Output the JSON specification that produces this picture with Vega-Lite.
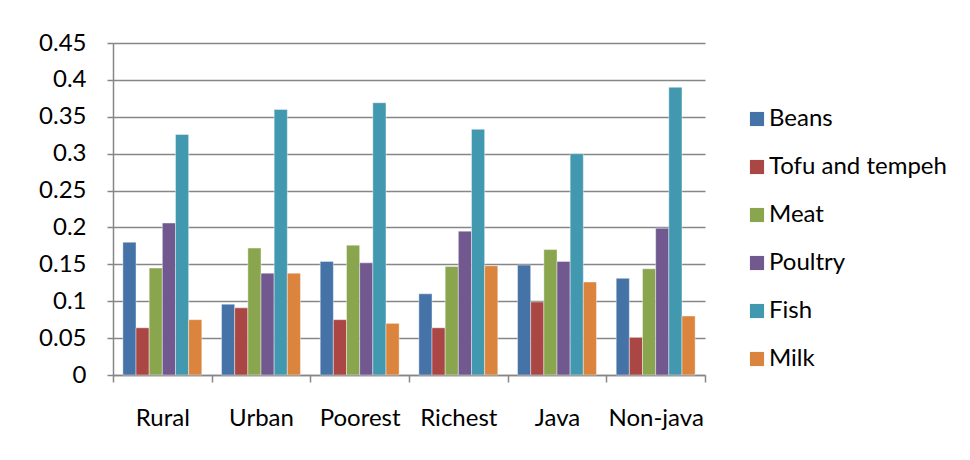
{
  "$schema": "https://vega.github.io/schema/vega-lite/v6.json",
  "width": 592,
  "height": 332,
  "autosize": {"type": "none"},
  "padding": {"left": 113, "top": 43, "right": 265, "bottom": 85},
  "background": "white",
  "config": {
    "font": "Lato",
    "view": {"stroke": null},
    "axis": {"labelFont": "Lato", "labelFontSize": 24, "labelColor": "#000000"}
  },
  "data": {
    "values": [
      {"region": "Rural", "food": "Beans", "value": 0.180},
      {"region": "Rural", "food": "Tofu and tempeh", "value": 0.064},
      {"region": "Rural", "food": "Meat", "value": 0.145},
      {"region": "Rural", "food": "Poultry", "value": 0.206},
      {"region": "Rural", "food": "Fish", "value": 0.326},
      {"region": "Rural", "food": "Milk", "value": 0.075},
      {"region": "Urban", "food": "Beans", "value": 0.096},
      {"region": "Urban", "food": "Tofu and tempeh", "value": 0.091},
      {"region": "Urban", "food": "Meat", "value": 0.172},
      {"region": "Urban", "food": "Poultry", "value": 0.138},
      {"region": "Urban", "food": "Fish", "value": 0.360},
      {"region": "Urban", "food": "Milk", "value": 0.138},
      {"region": "Poorest", "food": "Beans", "value": 0.154},
      {"region": "Poorest", "food": "Tofu and tempeh", "value": 0.075},
      {"region": "Poorest", "food": "Meat", "value": 0.176},
      {"region": "Poorest", "food": "Poultry", "value": 0.152},
      {"region": "Poorest", "food": "Fish", "value": 0.369},
      {"region": "Poorest", "food": "Milk", "value": 0.070},
      {"region": "Richest", "food": "Beans", "value": 0.110},
      {"region": "Richest", "food": "Tofu and tempeh", "value": 0.064},
      {"region": "Richest", "food": "Meat", "value": 0.147},
      {"region": "Richest", "food": "Poultry", "value": 0.195},
      {"region": "Richest", "food": "Fish", "value": 0.333},
      {"region": "Richest", "food": "Milk", "value": 0.148},
      {"region": "Java", "food": "Beans", "value": 0.149},
      {"region": "Java", "food": "Tofu and tempeh", "value": 0.099},
      {"region": "Java", "food": "Meat", "value": 0.170},
      {"region": "Java", "food": "Poultry", "value": 0.154},
      {"region": "Java", "food": "Fish", "value": 0.300},
      {"region": "Java", "food": "Milk", "value": 0.126},
      {"region": "Non-java", "food": "Beans", "value": 0.131},
      {"region": "Non-java", "food": "Tofu and tempeh", "value": 0.051},
      {"region": "Non-java", "food": "Meat", "value": 0.144},
      {"region": "Non-java", "food": "Poultry", "value": 0.199},
      {"region": "Non-java", "food": "Fish", "value": 0.390},
      {"region": "Non-java", "food": "Milk", "value": 0.080}
    ]
  },
  "mark": {"type": "bar", "stroke": "white", "strokeWidth": 0.6, "strokeOpacity": 0.7},
  "encoding": {
    "x": {
      "field": "region",
      "type": "nominal",
      "sort": ["Rural", "Urban", "Poorest", "Richest", "Java", "Non-java"],
      "scale": {"paddingInner": 0, "paddingOuter": 0},
      "axis": {
        "title": null,
        "labelAngle": 0,
        "bandPosition": 0,
        "tickBand": "extent",
        "domainColor": "#868686",
        "domainWidth": 1.5,
        "tickColor": "#868686",
        "tickWidth": 1.5,
        "tickSize": 7,
        "labelPadding": 24,
        "grid": false
      }
    },
    "xOffset": {
      "field": "food",
      "sort": ["Beans", "Tofu and tempeh", "Meat", "Poultry", "Fish", "Milk"],
      "scale": {"paddingInner": 0, "paddingOuter": 0.75}
    },
    "y": {
      "field": "value",
      "type": "quantitative",
      "scale": {"domain": [0, 0.45], "nice": false},
      "axis": {
        "title": null,
        "values": [0, 0.05, 0.1, 0.15, 0.2, 0.25, 0.3, 0.35, 0.4, 0.45],
        "format": "~g",
        "grid": true,
        "gridColor": "#868686",
        "gridWidth": 1.5,
        "domainColor": "#868686",
        "domainWidth": 1.5,
        "tickColor": "#868686",
        "tickWidth": 1.5,
        "tickSize": 6,
        "labelPadding": 21
      }
    },
    "color": {
      "field": "food",
      "type": "nominal",
      "sort": ["Beans", "Tofu and tempeh", "Meat", "Poultry", "Fish", "Milk"],
      "scale": {
        "domain": ["Beans", "Tofu and tempeh", "Meat", "Poultry", "Fish", "Milk"],
        "range": ["#4572A7", "#AA4643", "#89A54E", "#71588F", "#4198AF", "#DB843D"]
      },
      "legend": {
        "title": null,
        "orient": "none",
        "legendX": 632,
        "legendY": 64,
        "symbolType": "square",
        "symbolSize": 200,
        "symbolStrokeWidth": 0,
        "labelFontSize": 24,
        "labelFont": "Lato",
        "labelColor": "#000000",
        "labelLimit": 400,
        "rowPadding": 24,
        "labelOffset": 0
      }
    }
  }
}
